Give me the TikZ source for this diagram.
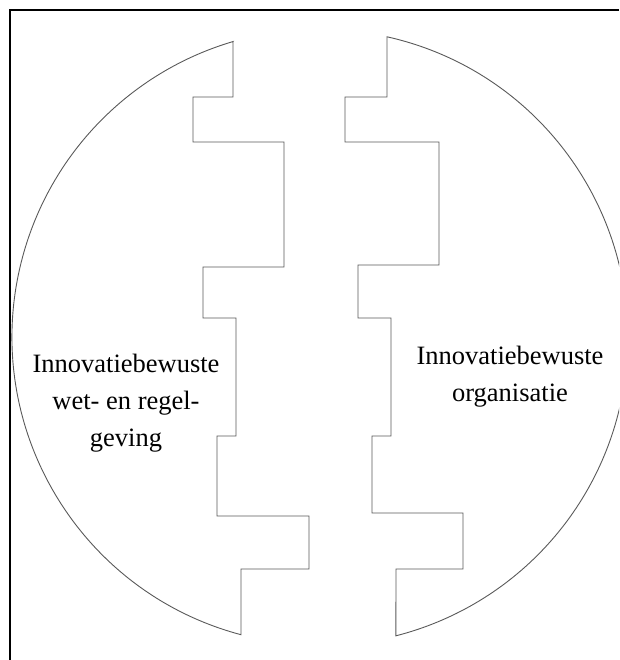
\documentclass[tikz,border=0pt]{standalone}
\usepackage{fontspec}
\setmainfont{Liberation Serif}
\usepackage{tikz}
\usetikzlibrary{calc}
\tikzset{
  frameline/.style={draw=black,line width=1.2pt},
  cutline/.style={draw=black!65,line width=0.9pt,line join=miter},
  halflabel/.style={align=center,inner sep=0pt,font=\fontsize{26.5}{37}\selectfont},
}
\begin{document}
\begin{tikzpicture}[x=1pt,y=1pt]
  \useasboundingbox (0,0) rectangle (619,-660);
  \clip (0,0) rectangle (619,-660);
  \coordinate (c) at (320,-337);
  % frame
  \coordinate (fc) at (10,-10);
  \draw[frameline] (619,-10) -- (fc) -- (10,-660);
  % left half with stepped edge
  \draw[cutline] (233,-41.6) -- (233,-97) -- (193,-97) -- (193,-142) -- (284,-142)
    -- (284,-267) -- (203,-267) -- (203,-318) -- (236,-318) -- (236,-436)
    -- (217,-436) -- (217,-516) -- (309,-516) -- (309,-569) -- (241,-569)
    -- (241,-634.7) arc[start angle=255.14,end angle=106.4,radius=308] -- cycle;
  % right half with stepped edge
  \draw[cutline] (387,-36.8) arc[start angle=77.4,end angle=-75.7,radius=308]
    -- (396,-569) -- (463,-569) -- (463,-513) -- (372,-513) -- (372,-436)
    -- (391,-436) -- (391,-318) -- (358,-318) -- (358,-265) -- (439,-265)
    -- (439,-142) -- (345,-142) -- (345,-97) -- (387,-97) -- cycle;
  % labels
  \node[halflabel] (lawtext) at (126,-403) {Innovatiebewuste\\wet- en regel-\\geving};
  \node[halflabel] (orgtext) at (510,-377) {Innovatiebewuste\\organisatie};
\end{tikzpicture}
\end{document}
